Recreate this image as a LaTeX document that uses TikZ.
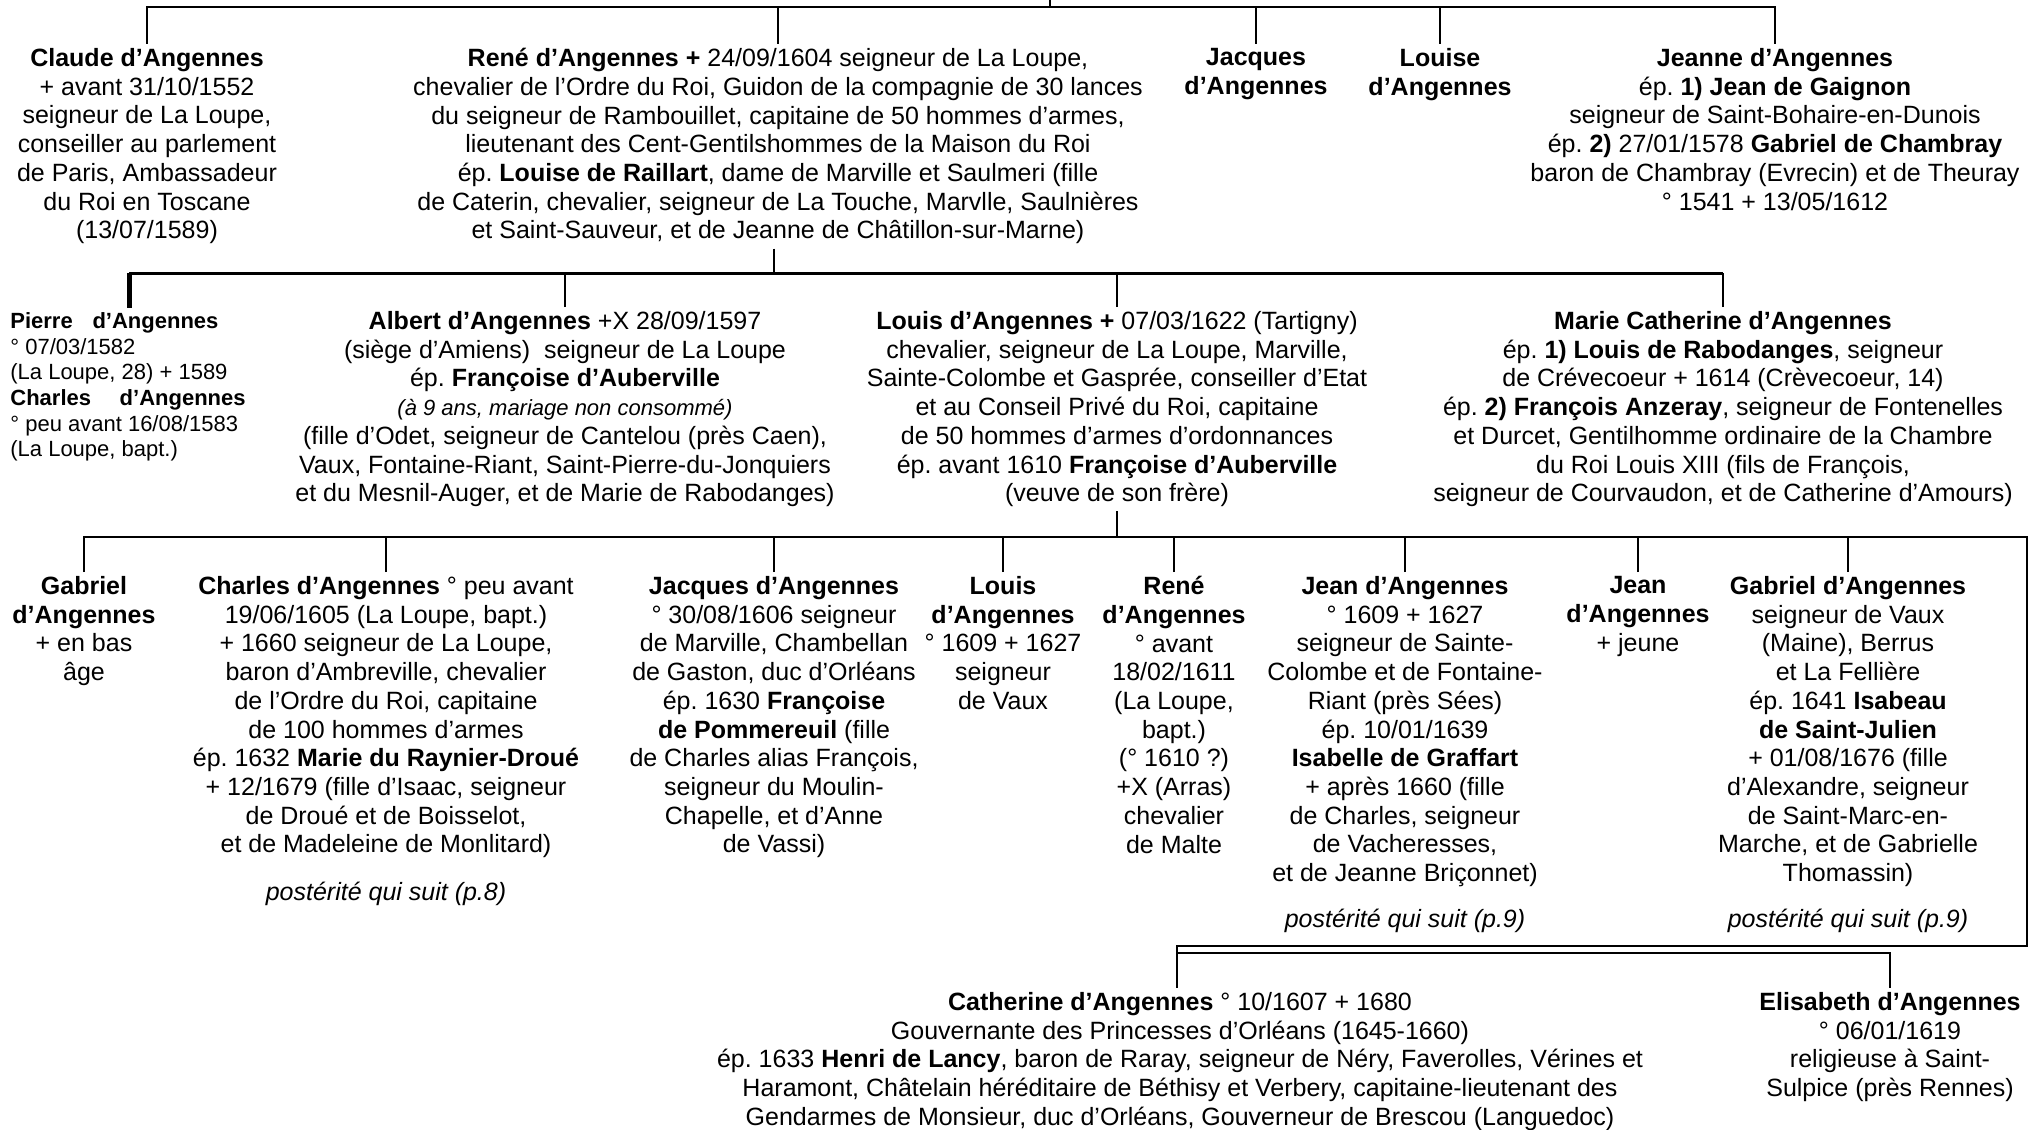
\documentclass[tikz,border=0pt]{standalone}
\usepackage{fontspec}
\setmainfont{Liberation Sans}
\usetikzlibrary{positioning,calc}
\frenchspacing

\begin{document}
\begin{tikzpicture}[
    x=0.5pt, y=-0.5pt,
    person/.style={align=center, anchor=north, inner xsep=1pt, inner ysep=2pt, font=\fontsize{12.5}{14.35}\selectfont},
    smallperson/.style={align=left, anchor=north west, inner xsep=0pt, inner ysep=2pt, font=\fontsize{11}{12.85}\selectfont},
    note/.style={inner sep=0pt, font=\fontsize{12.5}{14.35}\selectfont\itshape},
    line/.style={draw, line width=1pt},
    thickline/.style={draw, line width=1.5pt},
    thickdrop/.style={draw, line width=2.5pt}
]
\useasboundingbox (0,0) rectangle (2037,1129);

% generation 1
\node[person] (claude) at (147,44) {\textbf{Claude d’Angennes}\\+ avant 31/10/1552\\seigneur de La Loupe,\\conseiller au parlement\\de Paris, Ambassadeur\\du Roi en Toscane\\(13/07/1589)};
\node[person] (rene) at (778,44) {\textbf{René d’Angennes +} 24/09/1604 seigneur de La Loupe,\\chevalier de l’Ordre du Roi, Guidon de la compagnie de 30 lances\\du seigneur de Rambouillet, capitaine de 50 hommes d’armes,\\lieutenant des Cent-Gentilshommes de la Maison du Roi\\ép. \textbf{Louise de Raillart}, dame de Marville et Saulmeri (fille\\de Caterin, chevalier, seigneur de La Touche, Marvlle, Saulnières\\et Saint-Sauveur, et de Jeanne de Châtillon-sur-Marne)};
\node[person] (jacques) at (1256,44) {\textbf{Jacques}\\\textbf{d’Angennes}};
\node[person] (louise) at (1440,44) {\textbf{Louise}\\\textbf{d’Angennes}};
\node[person] (jeanne) at (1775,44) {\textbf{Jeanne d’Angennes}\\ép. \textbf{1) Jean de Gaignon}\\seigneur de Saint-Bohaire-en-Dunois\\ép. \textbf{2)} 27/01/1578 \textbf{Gabriel de Chambray}\\baron de Chambray (Evrecin) et de Theuray\\° 1541 + 13/05/1612};

% generation 2
\node[smallperson] (pierre) at (10,308) {\textbf{Pierre\hspace{0.9em}d’Angennes}\\° 07/03/1582\\(La Loupe, 28) + 1589\\\textbf{Charles\hspace{1.3em}d’Angennes}\\° peu avant 16/08/1583\\(La Loupe, bapt.)};
\node[person] (albert) at (565,307) {\textbf{Albert d’Angennes} +X 28/09/1597\\(siège d’Amiens)\ \ seigneur de La Loupe\\ép. \textbf{Françoise d’Auberville}\\{\fontsize{11}{12.85}\selectfont\itshape (à 9 ans, mariage non consommé)}\\(fille d’Odet, seigneur de Cantelou (près Caen),\\Vaux, Fontaine-Riant, Saint-Pierre-du-Jonquiers\\et du Mesnil-Auger, et de Marie de Rabodanges)};
\node[person] (louis) at (1117,307) {\textbf{Louis d’Angennes +} 07/03/1622 (Tartigny)\\chevalier, seigneur de La Loupe, Marville,\\Sainte-Colombe et Gasprée, conseiller d’Etat\\et au Conseil Privé du Roi, capitaine\\de 50 hommes d’armes d’ordonnances\\ép. avant 1610 \textbf{Françoise d’Auberville}\\(veuve de son frère)};
\node[person] (marie) at (1723,307) {\textbf{Marie Catherine d’Angennes}\\ép. \textbf{1) Louis de Rabodanges}, seigneur\\de Crévecoeur + 1614 (Crèvecoeur, 14)\\ép. \textbf{2) François Anzeray}, seigneur de Fontenelles\\et Durcet, Gentilhomme ordinaire de la Chambre\\du Roi Louis XIII (fils de François,\\seigneur de Courvaudon, et de Catherine d’Amours)};

% generation 3
\node[person] (gabriel) at (84,572) {\textbf{Gabriel}\\\textbf{d’Angennes}\\+ en bas\\âge};
\node[person] (charles) at (386,572) {\textbf{Charles d’Angennes} ° peu avant\\19/06/1605 (La Loupe, bapt.)\\+ 1660 seigneur de La Loupe,\\baron d’Ambreville, chevalier\\de l’Ordre du Roi, capitaine\\de 100 hommes d’armes\\ép. 1632 \textbf{Marie du Raynier-Droué}\\+ 12/1679 (fille d’Isaac, seigneur\\de Droué et de Boisselot,\\et de Madeleine de Monlitard)};
\node[person] (jacquesB) at (774,572) {\textbf{Jacques d’Angennes}\\° 30/08/1606 seigneur\\de Marville, Chambellan\\de Gaston, duc d’Orléans\\ép. 1630 \textbf{Françoise}\\\textbf{de Pommereuil} (fille\\de Charles alias François,\\seigneur du Moulin-\\Chapelle, et d’Anne\\de Vassi)};
\node[person] (louisB) at (1003,572) {\textbf{Louis}\\\textbf{d’Angennes}\\° 1609 + 1627\\seigneur\\de Vaux};
\node[person] (reneB) at (1174,572) {\textbf{René}\\\textbf{d’Angennes}\\° avant\\18/02/1611\\(La Loupe,\\bapt.)\\(° 1610 ?)\\+X (Arras)\\chevalier\\de Malte};
\node[person] (jean) at (1405,572) {\textbf{Jean d’Angennes}\\° 1609 + 1627\\seigneur de Sainte-\\Colombe et de Fontaine-\\Riant (près Sées)\\ép. 10/01/1639\\\textbf{Isabelle de Graffart}\\+ après 1660 (fille\\de Charles, seigneur\\de Vacheresses,\\et de Jeanne Briçonnet)};
\node[person] (jeanB) at (1638,572) {\textbf{Jean}\\\textbf{d’Angennes}\\+ jeune};
\node[person] (gabrielB) at (1848,572) {\textbf{Gabriel d’Angennes}\\seigneur de Vaux\\(Maine), Berrus\\et La Fellière\\ép. 1641 \textbf{Isabeau}\\\textbf{de Saint-Julien}\\+ 01/08/1676 (fille\\d’Alexandre, seigneur\\de Saint-Marc-en-\\Marche, et de Gabrielle\\Thomassin)};

\node[note] (charlesnote) at (386,894) {postérité qui suit (p.8)};
\node[note] (jeannote) at (1405,921) {postérité qui suit (p.9)};
\node[note] (gabrielnote) at (1848,921) {postérité qui suit (p.9)};

\node[person] (catherine) at (1180,988) {\textbf{Catherine d’Angennes} ° 10/1607 + 1680\\Gouvernante des Princesses d’Orléans (1645-1660)\\ép. 1633 \textbf{Henri de Lancy}, baron de Raray, seigneur de Néry, Faverolles, Vérines et\\Haramont, Châtelain héréditaire de Béthisy et Verbery, capitaine-lieutenant des\\Gendarmes de Monsieur, duc d’Orléans, Gouverneur de Brescou (Languedoc)};
\node[person] (elisabeth) at (1890,988) {\textbf{Elisabeth d’Angennes}\\° 06/01/1619\\religieuse à Saint-\\Sulpice (près Rennes)};

% bars
\coordinate (parent) at (1050,0);
\coordinate (bar0) at (1050,7);
\coordinate (bar1) at (774,273);
\coordinate (pierretop) at (129,273);
\coordinate (bar2) at (1117,537);
\coordinate (bar3) at (2027,946);
\coordinate (bar3b) at (1177,953);

\draw[line] (parent) -- (bar0);
\draw[line] (claude.north) |- (bar0) -| (jeanne.north);
\foreach \n in {rene,jacques,louise}
  \draw[line] (\n.north) -- (\n.north |- bar0);

\draw[line] (rene.south -| bar1) -- (bar1);
\draw[thickline] (pierretop) -- (marie.north |- bar1);
\draw[thickdrop] (pierretop) -- (pierretop |- pierre.north);
\foreach \n in {albert,louis,marie}
  \draw[line] (\n.north) -- (\n.north |- bar1);

\draw[line] (louis.south) -- (bar2);
\draw[line] (gabriel.north) |- (bar2) -| (bar3) -| (bar3b |- catherine.north);
\foreach \n in {charles,jacquesB,louisB,reneB,jean,jeanB,gabrielB}
  \draw[line] (\n.north) -- (\n.north |- bar2);
\draw[line] (bar3b) -| (elisabeth.north);
\end{tikzpicture}
\end{document}
